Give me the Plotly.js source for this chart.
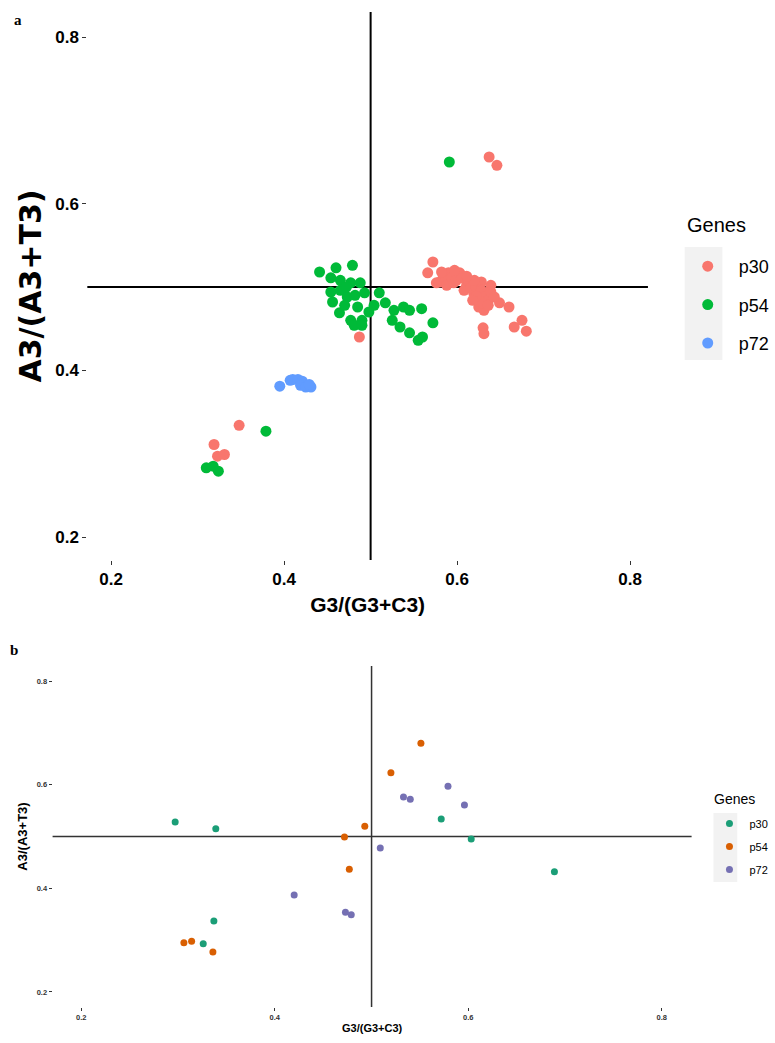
<!DOCTYPE html>
<html><head><meta charset="utf-8">
<script src="https://cdn.plot.ly/plotly-3.0.1.min.js"></script>
<style>html,body{margin:0;padding:0;background:#fff}#chart{width:775px;height:1043px}</style>
</head><body><div id="chart"></div>
<script>
// ---------- Shared labels ----------
const geneNames = ["p30", "p54", "p72"];
const legendTitle = "Genes";
const tickVals = [0.2, 0.4, 0.6, 0.8];
const tickText = ["0.2", "0.4", "0.6", "0.8"];

// ---------- Panel a data ----------
const a_p30_x = [0.572,0.566,0.580,0.590,0.603,0.596,0.611,0.628,0.639,0.619,0.626,0.634,0.625,0.631,0.649,0.660,0.630,0.631,0.666,0.675,0.680,
  0.584,0.588,0.594,0.599,0.605,0.608,0.614,0.616,0.622,0.628,0.631,0.636,0.639,0.620,0.629,0.636,0.611,0.576,0.582,0.597,0.643,0.622,0.618,
  0.637,0.646,0.487,0.348,0.319,0.323,0.331];
const a_p30_y = [0.530,0.517,0.506,0.517,0.517,0.505,0.502,0.506,0.502,0.493,0.484,0.493,0.476,0.472,0.481,0.476,0.451,0.444,0.452,0.460,0.447,
  0.512,0.502,0.511,0.508,0.511,0.496,0.506,0.499,0.500,0.496,0.488,0.484,0.494,0.508,0.481,0.478,0.513,0.505,0.518,0.520,0.488,0.489,0.484,
  0.656,0.646,0.440,0.334,0.311,0.297,0.299];

const a_p54_x = [0.441,0.460,0.479,0.454,0.465,0.477,0.488,0.454,0.456,0.465,0.473,0.482,0.493,0.510,0.485,0.464,0.477,0.490,0.504,0.517,
  0.527,0.538,0.545,0.559,0.525,0.534,0.572,0.545,0.555,0.481,0.490,0.472,0.470,0.498,0.560,
  0.591,0.379,0.310,0.318,0.324];
const a_p54_y = [0.518,0.523,0.526,0.511,0.508,0.505,0.505,0.494,0.482,0.496,0.488,0.490,0.493,0.493,0.476,0.469,0.460,0.460,0.478,0.481,
  0.472,0.476,0.472,0.474,0.460,0.452,0.457,0.445,0.436,0.454,0.454,0.500,0.478,0.470,0.440,
  0.650,0.327,0.283,0.285,0.279];

const a_p72_x = [0.395,0.407,0.410,0.416,0.421,0.419,0.425,0.431,0.429];
const a_p72_y = [0.381,0.388,0.389,0.389,0.387,0.382,0.380,0.380,0.383];

// ---------- Panel b data ----------
const b_p30_x = [0.297,0.339,0.337,0.326,0.572,0.603,0.689];
const b_p30_y = [0.528,0.515,0.337,0.293,0.534,0.495,0.432];
const b_p54_x = [0.551,0.520,0.493,0.472,0.477,0.306,0.314,0.336];
const b_p54_y = [0.680,0.623,0.520,0.499,0.437,0.295,0.298,0.277];
const b_p72_x = [0.579,0.533,0.540,0.596,0.509,0.420,0.473,0.479];
const b_p72_y = [0.597,0.576,0.572,0.561,0.478,0.387,0.354,0.349];

const colsA = ["#F8766D", "#00BA38", "#619CFF"];
const colsB = ["#1B9E77", "#D95F02", "#7570B3"];

const W = 775, H = 1043;
const px = v => v / W;
const py = v => 1 - v / H;

const dataA = [[a_p30_x,a_p30_y],[a_p54_x,a_p54_y],[a_p72_x,a_p72_y]];
const dataB = [[b_p30_x,b_p30_y],[b_p54_x,b_p54_y],[b_p72_x,b_p72_y]];

const traces = [];
dataA.forEach((d, i) => traces.push({
  type: "scatter", mode: "markers", x: d[0], y: d[1], name: geneNames[i],
  xaxis: "x", yaxis: "y", legend: "legend", legendgroup: "a" + i,
  marker: {color: colsA[i], size: 11, line: {width: 0}}
}));
dataB.forEach((d, i) => traces.push({
  type: "scatter", mode: "markers", x: d[0], y: d[1], name: geneNames[i],
  xaxis: "x2", yaxis: "y2", legend: "legend2", legendgroup: "b" + i,
  marker: {color: colsB[i], size: 7, line: {width: 0}}
}));

const fontFam = "Liberation Sans, Arial, sans-serif";
function axis(extra) {
  return Object.assign({
    showgrid: false, zeroline: false, showline: false,
    ticks: "outside", tickcolor: "#333", tickwidth: 1,
    tickvals: tickVals, ticktext: tickText, fixedrange: true
  }, extra);
}

const layout = {
  width: W, height: H,
  margin: {l: 0, r: 0, t: 0, b: 0},
  paper_bgcolor: "#fff", plot_bgcolor: "rgba(0,0,0,0)",
  font: {family: fontFam, color: "#000"},
  xaxis: axis({domain: [px(88), px(653)], range: [0.1725, 0.8206], anchor: "y", ticklen: 4,
    tickfont: {size: 17, weight: "bold", color: "#000"},
    title: {text: "G3/(G3+C3)", font: {size: 21, weight: "bold"}, standoff: 8}}),
  yaxis: axis({domain: [py(560), py(12)], range: [0.1724, 0.830], anchor: "x", ticklen: 4,
    tickfont: {size: 17, weight: "bold", color: "#000"},
    title: {text: "A3/(A3+T3)", font: {family: "DejaVu Sans, sans-serif", size: 30, weight: "bold"}, standoff: 4}}),
  xaxis2: axis({domain: [px(53), px(697)], range: [0.1703, 0.8308], anchor: "y2", ticklen: 3,
    tickfont: {size: 7.5, weight: "bold", color: "#333"},
    title: {text: "G3/(G3+C3)", font: {size: 11, weight: "bold"}, standoff: 3}}),
  yaxis2: axis({domain: [py(1007), py(666)], range: [0.171, 0.829], anchor: "x2", ticklen: 3,
    tickfont: {size: 7.5, weight: "bold", color: "#333"},
    title: {text: "A3/(A3+T3)", font: {size: 13, weight: "bold"}, standoff: 6}}),
  legend: {x: px(682), xanchor: "left", y: py(248), yanchor: "top", bgcolor: "rgba(0,0,0,0)",
    font: {size: 18}, tracegroupgap: 12, itemwidth: 52},
  legend2: {x: px(715), xanchor: "left", y: py(809), yanchor: "top", bgcolor: "rgba(0,0,0,0)",
    font: {size: 11}, tracegroupgap: 4, itemwidth: 30},
  shapes: [
    {type: "line", xref: "x", yref: "y domain", x0: 0.5, x1: 0.5, y0: 0, y1: 1, line: {color: "#000", width: 2}, layer: "below"},
    {type: "line", xref: "x domain", yref: "y", x0: 0, x1: 1, y0: 0.5, y1: 0.5, line: {color: "#000", width: 2}, layer: "below"},
    {type: "line", xref: "x2", yref: "y2 domain", x0: 0.5, x1: 0.5, y0: 0, y1: 1, line: {color: "#333", width: 1.5}, layer: "below"},
    {type: "line", xref: "x2 domain", yref: "y2", x0: 0, x1: 1, y0: 0.5, y1: 0.5, line: {color: "#333", width: 1.5}, layer: "below"},
    {type: "rect", xref: "paper", yref: "paper", x0: px(690), x1: px(728), y0: py(360), y1: py(247), fillcolor: "#F2F2F2", line: {width: 0}, layer: "below"},
    {type: "rect", xref: "paper", yref: "paper", x0: px(719), x1: px(743), y0: py(882), y1: py(813), fillcolor: "#F2F2F2", line: {width: 0}, layer: "below"}
  ],
  annotations: [
    {text: "a", xref: "paper", yref: "paper", x: px(12), y: py(10), xanchor: "left", yanchor: "top", showarrow: false,
      font: {family: "Liberation Serif, Times New Roman, serif", size: 15, weight: "bold"}},
    {text: "b", xref: "paper", yref: "paper", x: px(8), y: py(640), xanchor: "left", yanchor: "top", showarrow: false,
      font: {family: "Liberation Serif, Times New Roman, serif", size: 15, weight: "bold"}},
    {text: legendTitle, xref: "paper", yref: "paper", x: px(690), y: py(225), xanchor: "left", yanchor: "middle", showarrow: false,
      font: {size: 20}},
    {text: legendTitle, xref: "paper", yref: "paper", x: px(718), y: py(799), xanchor: "left", yanchor: "middle", showarrow: false,
      font: {size: 14}}
  ]
};

Plotly.newPlot("chart", traces, layout, {staticPlot: true});
</script></body></html>
